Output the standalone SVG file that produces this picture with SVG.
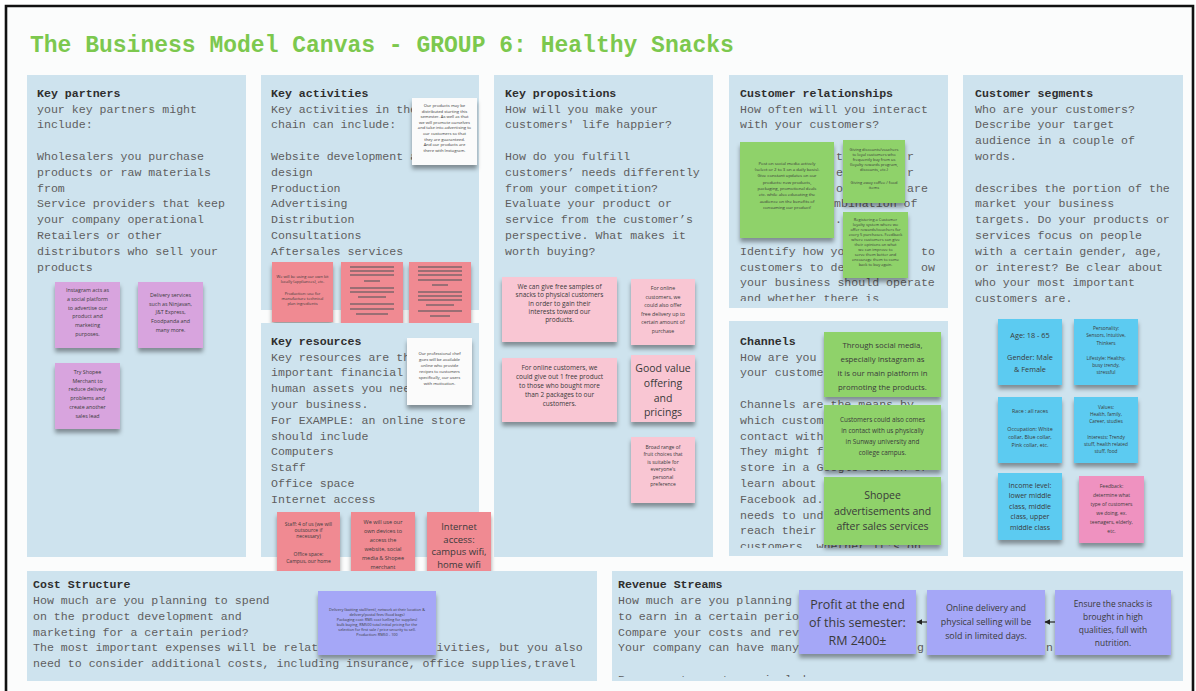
<svg xmlns="http://www.w3.org/2000/svg" width="1196" height="691" viewBox="0 0 1196 691">
<style>
.pn{fill:#cee3ee}
.h{font-family:"Liberation Mono",monospace;font-size:11.6px;font-weight:bold;fill:#2e2e2e}
.b{font-family:"Liberation Mono",monospace;font-size:11.6px;fill:#5e5e5e}
.s{font-family:"Open Sans","Noto Sans",sans-serif;fill:#3a3a3a;text-anchor:middle}
.pu{fill:#d8a4de}.wh{fill:#fbfbfb}.rd{fill:#f08a92}.pk{fill:#f9c6d3}.gr{fill:#8fd26a}.bl{fill:#5ccbf1}.pf{fill:#ef92c0}.lv{fill:#a5a7f7}
.gk{stroke:#7f666b;stroke-width:1.3;fill:none}
</style>
<defs>
<filter id="sh" x="-15%" y="-15%" width="130%" height="150%">
<feDropShadow dx="0" dy="4" stdDeviation="2.2" flood-color="#000" flood-opacity="0.38"/>
</filter>
<marker id="ah" viewBox="0 0 10 10" refX="9" refY="5" markerWidth="6" markerHeight="6" orient="auto-start-reverse" markerUnits="userSpaceOnUse">
<path d="M0,0 L10,5 L0,10 z" fill="#222"/>
</marker>
<clipPath id="cCr"><rect x="729" y="75" width="219" height="226"/></clipPath>
<clipPath id="cCh"><rect x="729" y="321" width="219" height="227"/></clipPath>
<clipPath id="cRev"><rect x="612" y="571" width="571" height="106"/></clipPath>
</defs>

<rect x="0" y="0" width="1196" height="691" fill="#ffffff"/>
<rect x="7" y="7" width="1185" height="684" fill="#fbfcfc"/>
<path d="M6,691 V6 H1193 V691" fill="none" stroke="#111" stroke-width="2.6"/>

<text x="30" y="52" font-family="Liberation Mono, monospace" font-size="23" font-weight="bold" fill="#7cc84e">The Business Model Canvas - GROUP 6: Healthy Snacks</text>

<!-- Key partners -->
<g id="key-partners">
<rect class="pn" x="27" y="75" width="219" height="482"/>
<text class="h" x="37" y="97">Key partners</text>
<text class="b"><tspan x="37" y="113">your key partners might</tspan><tspan x="37" y="128">include:</tspan><tspan x="37" y="160">Wholesalers you purchase</tspan><tspan x="37" y="176">products or raw materials</tspan><tspan x="37" y="192">from</tspan><tspan x="37" y="207">Service providers that keep</tspan><tspan x="37" y="223">your company operational</tspan><tspan x="37" y="239">Retailers or other</tspan><tspan x="37" y="255">distributors who sell your</tspan><tspan x="37" y="271">products</tspan></text>
</g>
<g id="kp-note-1"><rect class="pu" x="55" y="282" width="65" height="66" filter="url(#sh)"/>
<text class="s" font-size="5.3"><tspan x="87.5" y="292">Instagram acts as</tspan><tspan x="87.5" y="301">a social platform</tspan><tspan x="87.5" y="310">to advertise our</tspan><tspan x="87.5" y="318">product and</tspan><tspan x="87.5" y="327">marketing</tspan><tspan x="87.5" y="336">purposes.</tspan></text></g>
<g id="kp-note-2"><rect class="pu" x="138" y="282" width="65" height="66" filter="url(#sh)"/>
<text class="s" font-size="5.3"><tspan x="170.5" y="297">Delivery services</tspan><tspan x="170.5" y="306">such as Ninjavan,</tspan><tspan x="170.5" y="314">J&amp;T Express,</tspan><tspan x="170.5" y="323">Foodpanda and</tspan><tspan x="170.5" y="332">many more.</tspan></text></g>
<g id="kp-note-3"><rect class="pu" x="55" y="363" width="65" height="66" filter="url(#sh)"/>
<text class="s" font-size="5.3"><tspan x="87.5" y="374">Try Shopee</tspan><tspan x="87.5" y="383">Merchant to</tspan><tspan x="87.5" y="391">reduce delivery</tspan><tspan x="87.5" y="400">problems and</tspan><tspan x="87.5" y="409">create another</tspan><tspan x="87.5" y="418">sales lead</tspan></text></g>

<!-- Key activities -->
<g id="key-activities">
<rect class="pn" x="261" y="75" width="218" height="235"/>
<text class="h" x="271" y="97">Key activities</text>
<text class="b"><tspan x="271" y="113">Key activities in the</tspan><tspan x="271" y="128">chain can include:</tspan><tspan x="271" y="160">Website development a</tspan><tspan x="271" y="176">design</tspan><tspan x="271" y="192">Production</tspan><tspan x="271" y="207">Advertising</tspan><tspan x="271" y="223">Distribution</tspan><tspan x="271" y="239">Consultations</tspan><tspan x="271" y="255">Aftersales services</tspan></text>
</g>
<g id="ka-note-white"><rect class="wh" x="412" y="98" width="65" height="67" filter="url(#sh)"/>
<text class="s" font-size="4.2"><tspan x="444.5" y="107">Our products may be</tspan><tspan x="444.5" y="113">distributed starting this</tspan><tspan x="444.5" y="118">semester. As well as that</tspan><tspan x="444.5" y="124">we will promote ourselves</tspan><tspan x="444.5" y="129">and take into advertising to</tspan><tspan x="444.5" y="135">our customers so that</tspan><tspan x="444.5" y="141">they are guaranteed.</tspan><tspan x="444.5" y="146">And our products are</tspan><tspan x="444.5" y="152">there with Instagram.</tspan></text></g>
<g id="ka-note-1"><rect class="rd" x="272" y="262" width="61" height="60" filter="url(#sh)"/>
<text class="s" font-size="4"><tspan x="302.5" y="278">We will be using our own kit</tspan><tspan x="302.5" y="283">locally (appliances), etc.</tspan><tspan x="302.5" y="295">Production: use for</tspan><tspan x="302.5" y="300">manufacture technical</tspan><tspan x="302.5" y="305">plan ingredients</tspan></text></g>
<g id="ka-note-2"><rect class="rd" x="341" y="262" width="62" height="62" filter="url(#sh)"/>
<path class="gk" d="M350,267 H394 M350,271 H394 M350,275 H394 M364,281 H380 M350,288 H394 M350,292 H394 M358,297 H386 M350,304 H394 M350,309 H394 M356,314 H388"/></g>
<g id="ka-note-3"><rect class="rd" x="409" y="262" width="62" height="62" filter="url(#sh)"/>
<path class="gk" d="M418,267 H462 M418,271 H462 M418,275 H462 M418,280 H462 M432,285 H448 M418,292 H462 M418,296 H462 M418,300 H462 M426,305 H454 M418,311 H462 M430,316 H450"/></g>

<!-- Key resources -->
<g id="key-resources">
<rect class="pn" x="261" y="323" width="218" height="234"/>
<text class="h" x="271" y="345">Key resources</text>
<text class="b"><tspan x="271" y="361">Key resources are th</tspan><tspan x="271" y="376">important financial</tspan><tspan x="271" y="392">human assets you nee</tspan><tspan x="271" y="408">your business.</tspan><tspan x="271" y="424">For EXAMPLE: an online store</tspan><tspan x="271" y="440">should include</tspan><tspan x="271" y="455">Computers</tspan><tspan x="271" y="471">Staff</tspan><tspan x="271" y="487">Office space</tspan><tspan x="271" y="503">Internet access</tspan></text>
</g>
<g id="kr-note-white"><rect class="wh" x="407" y="338" width="65" height="67" filter="url(#sh)"/>
<text class="s" font-size="4.2"><tspan x="439.5" y="355">Our professional chef</tspan><tspan x="439.5" y="361">goes will be available</tspan><tspan x="439.5" y="367">online who provide</tspan><tspan x="439.5" y="373">recipes to customers</tspan><tspan x="439.5" y="379">specifically, our users</tspan><tspan x="439.5" y="385">with motivation.</tspan></text></g>
<g id="kr-note-1"><rect class="rd" x="277" y="512" width="63" height="61" filter="url(#sh)"/>
<text class="s" font-size="5"><tspan x="308.5" y="526">Staff: 4 of us (we will</tspan><tspan x="308.5" y="532">outsource if</tspan><tspan x="308.5" y="538">necessary)</tspan><tspan x="308.5" y="556">Office space:</tspan><tspan x="308.5" y="563">Campus, our home</tspan></text></g>
<g id="kr-note-2"><rect class="rd" x="351" y="512" width="64" height="63" filter="url(#sh)"/>
<text class="s" font-size="5.5"><tspan x="383" y="524">We will use our</tspan><tspan x="383" y="533">own devices to</tspan><tspan x="383" y="542">access the</tspan><tspan x="383" y="551">website, social</tspan><tspan x="383" y="560">media &amp; Shopee</tspan><tspan x="383" y="569">merchant</tspan></text></g>
<g id="kr-note-3"><rect class="rd" x="427" y="512" width="64" height="65" filter="url(#sh)"/>
<text class="s" font-size="9.5"><tspan x="459" y="530">Internet</tspan><tspan x="459" y="543">access:</tspan><tspan x="459" y="555">campus wifi,</tspan><tspan x="459" y="568">home wifi</tspan></text></g>

<!-- Key propositions -->
<g id="key-propositions">
<rect class="pn" x="494" y="75" width="219" height="482"/>
<text class="h" x="505" y="97">Key propositions</text>
<text class="b"><tspan x="505" y="113">How will you make your</tspan><tspan x="505" y="128">customers' life happier?</tspan><tspan x="505" y="160">How do you fulfill</tspan><tspan x="505" y="176">customers’ needs differently</tspan><tspan x="505" y="192">from your competition?</tspan><tspan x="505" y="207">Evaluate your product or</tspan><tspan x="505" y="223">service from the customer’s</tspan><tspan x="505" y="239">perspective. What makes it</tspan><tspan x="505" y="255">worth buying?</tspan></text>
</g>
<g id="vp-note-1"><rect class="pk" x="502" y="277" width="115" height="65" filter="url(#sh)"/>
<text class="s" font-size="6.5"><tspan x="559.5" y="289">We can give free samples of</tspan><tspan x="559.5" y="297">snacks to physical customers</tspan><tspan x="559.5" y="306">in order to gain their</tspan><tspan x="559.5" y="314">interests toward our</tspan><tspan x="559.5" y="322">products.</tspan></text></g>
<g id="vp-note-2"><rect class="pk" x="631" y="279" width="64" height="66" filter="url(#sh)"/>
<text class="s" font-size="5.2"><tspan x="663" y="290">For online</tspan><tspan x="663" y="299">customers, we</tspan><tspan x="663" y="307">could also offer</tspan><tspan x="663" y="316">free delivery up to</tspan><tspan x="663" y="324">certain amount of</tspan><tspan x="663" y="333">purchase</tspan></text></g>
<g id="vp-note-3"><rect class="pk" x="502" y="358" width="115" height="64" filter="url(#sh)"/>
<text class="s" font-size="6.5"><tspan x="559.5" y="370">For online customers, we</tspan><tspan x="559.5" y="379">could give out 1 free product</tspan><tspan x="559.5" y="388">to those who bought more</tspan><tspan x="559.5" y="397">than 2 packages to our</tspan><tspan x="559.5" y="406">customers.</tspan></text></g>
<g id="vp-note-4"><rect class="pk" x="631" y="355" width="64" height="67" filter="url(#sh)"/>
<text class="s" font-size="10.5"><tspan x="663" y="372">Good value</tspan><tspan x="663" y="387">offering</tspan><tspan x="663" y="402">and</tspan><tspan x="663" y="416">pricings</tspan></text></g>
<g id="vp-note-5"><rect class="pk" x="631" y="437" width="64" height="66" filter="url(#sh)"/>
<text class="s" font-size="5"><tspan x="663" y="449">Broad range of</tspan><tspan x="663" y="456">fruit choices that</tspan><tspan x="663" y="464">is suitable for</tspan><tspan x="663" y="471">everyone's</tspan><tspan x="663" y="479">personal</tspan><tspan x="663" y="486">preference</tspan></text></g>

<!-- Customer relationships -->
<g id="customer-relationships">
<rect class="pn" x="729" y="75" width="219" height="233"/>
<text class="h" x="740" y="97">Customer relationships</text>
<text class="b" clip-path="url(#cCr)"><tspan x="740" y="113">How often will you interact</tspan><tspan x="740" y="128">with your customers?</tspan><tspan x="836" y="160">t</tspan><tspan x="907" y="160">r</tspan><tspan x="836" y="176">e</tspan><tspan x="907" y="176">r</tspan><tspan x="836" y="192">o</tspan><tspan x="907" y="192">are</tspan><tspan x="834" y="207">mbination of</tspan><tspan x="835" y="223">.</tspan><tspan x="740" y="255">Identify how yo</tspan><tspan x="921" y="255">to</tspan><tspan x="740" y="271">customers to de</tspan><tspan x="921" y="271">ow</tspan><tspan x="740" y="286">your business should operate</tspan><tspan x="740" y="302">and whether there is</tspan></text>
</g>
<g id="cr-note-1"><rect class="gr" x="740" y="142" width="94" height="96" filter="url(#sh)"/>
<text class="s" font-size="4.3"><tspan x="787" y="165">Post on social media actively</tspan><tspan x="787" y="171">(select or 2 to 3 on a daily basis).</tspan><tspan x="787" y="177">Give constant updates on our</tspan><tspan x="787" y="184">products: new products,</tspan><tspan x="787" y="190">packaging, promotional deals</tspan><tspan x="787" y="196">etc. while also educating the</tspan><tspan x="787" y="203">audience on the benefits of</tspan><tspan x="787" y="209">consuming our product!</tspan></text></g>
<g id="cr-note-2"><rect class="gr" x="843" y="140" width="62" height="63" filter="url(#sh)"/>
<text class="s" font-size="4"><tspan x="874" y="151">Giving discounts/vouchers</tspan><tspan x="874" y="156">to loyal customers who</tspan><tspan x="874" y="161">frequently buy from us</tspan><tspan x="874" y="166">(loyalty rewards program,</tspan><tspan x="874" y="171">discounts, etc.)</tspan><tspan x="874" y="184">Giving away coffee / food</tspan><tspan x="874" y="189">items</tspan></text></g>
<g id="cr-note-3"><rect class="gr" x="843" y="212" width="65" height="66" filter="url(#sh)"/>
<text class="s" font-size="4"><tspan x="875.5" y="221">Registering a Customer</tspan><tspan x="875.5" y="226">loyalty system where we</tspan><tspan x="875.5" y="231">offer rewards/vouchers for</tspan><tspan x="875.5" y="236">every 5 purchases. Feedback</tspan><tspan x="875.5" y="241">where customers can give</tspan><tspan x="875.5" y="246">their opinions on what</tspan><tspan x="875.5" y="251">we can improve to</tspan><tspan x="875.5" y="256">serve them better and</tspan><tspan x="875.5" y="261">encourage them to come</tspan><tspan x="875.5" y="266">back to buy again.</tspan></text></g>

<!-- Channels -->
<g id="channels">
<rect class="pn" x="729" y="321" width="219" height="235"/>
<text class="h" x="740" y="345">Channels</text>
<text class="b" clip-path="url(#cCh)"><tspan x="740" y="361">How are you</tspan><tspan x="740" y="376">your custome</tspan><tspan x="740" y="408">Channels are the means by</tspan><tspan x="740" y="424">which custom</tspan><tspan x="740" y="440">contact with</tspan><tspan x="740" y="455">They might f</tspan><tspan x="740" y="471">store in a Google search or</tspan><tspan x="740" y="487">learn about</tspan><tspan x="740" y="503">Facebook ad.</tspan><tspan x="740" y="519">needs to und</tspan><tspan x="740" y="534">reach their</tspan><tspan x="740" y="550">customers, whether it's on</tspan></text>
</g>
<g id="ch-note-1"><rect class="gr" x="824" y="332" width="117" height="65" filter="url(#sh)"/>
<text class="s" font-size="7.8"><tspan x="882.5" y="348">Through social media,</tspan><tspan x="882.5" y="362">especially Instagram  as</tspan><tspan x="882.5" y="376">it is our main platform in</tspan><tspan x="882.5" y="390">promoting the products.</tspan></text></g>
<g id="ch-note-2"><rect class="gr" x="824" y="405" width="117" height="65" filter="url(#sh)"/>
<text class="s" font-size="6.4"><tspan x="882.5" y="422">Customers could also comes</tspan><tspan x="882.5" y="433">in contact with us physically</tspan><tspan x="882.5" y="444">in Sunway university and</tspan><tspan x="882.5" y="455">college campus.</tspan></text></g>
<g id="ch-note-3"><rect class="gr" x="824" y="477" width="117" height="68" filter="url(#sh)"/>
<text class="s" font-size="10.5"><tspan x="882.5" y="499">Shopee</tspan><tspan x="882.5" y="515">advertisements and</tspan><tspan x="882.5" y="530">after sales services</tspan></text></g>

<!-- Customer segments -->
<g id="customer-segments">
<rect class="pn" x="963" y="75" width="220" height="482"/>
<text class="h" x="975" y="97">Customer segments</text>
<text class="b"><tspan x="975" y="113">Who are your customers?</tspan><tspan x="975" y="128">Describe your target</tspan><tspan x="975" y="144">audience in a couple of</tspan><tspan x="975" y="160">words.</tspan><tspan x="975" y="192">describes the portion of the</tspan><tspan x="975" y="207">market your business</tspan><tspan x="975" y="223">targets. Do your products or</tspan><tspan x="975" y="239">services focus on people</tspan><tspan x="975" y="255">with a certain gender, age,</tspan><tspan x="975" y="271">or interest? Be clear about</tspan><tspan x="975" y="286">who your most important</tspan><tspan x="975" y="302">customers are.</tspan></text>
</g>
<g id="cs-note-1"><rect class="bl" x="998" y="319" width="64" height="66" filter="url(#sh)"/>
<text class="s" font-size="7.3"><tspan x="1030" y="338">Age: 18 - 65</tspan><tspan x="1030" y="360">Gender: Male</tspan><tspan x="1030" y="372">&amp; Female</tspan></text></g>
<g id="cs-note-2"><rect class="bl" x="1074" y="319" width="64" height="66" filter="url(#sh)"/>
<text class="s" font-size="4.8"><tspan x="1106" y="330">Personality:</tspan><tspan x="1106" y="337">Sensors, Intuitive,</tspan><tspan x="1106" y="345">Thinkers</tspan><tspan x="1106" y="360">Lifestyle: Healthy,</tspan><tspan x="1106" y="367">busy trendy,</tspan><tspan x="1106" y="374">stressful</tspan></text></g>
<g id="cs-note-3"><rect class="bl" x="998" y="397" width="64" height="66" filter="url(#sh)"/>
<text class="s" font-size="5.3"><tspan x="1030" y="413">Race : all races</tspan><tspan x="1030" y="431">Occupation: White</tspan><tspan x="1030" y="439">collar, Blue collar,</tspan><tspan x="1030" y="447">Pink collar, etc.</tspan></text></g>
<g id="cs-note-4"><rect class="bl" x="1074" y="397" width="64" height="66" filter="url(#sh)"/>
<text class="s" font-size="4.8"><tspan x="1106" y="409">Values:</tspan><tspan x="1106" y="416">Health, family,</tspan><tspan x="1106" y="423">Career, studies</tspan><tspan x="1106" y="439">Interests: Trendy</tspan><tspan x="1106" y="446">stuff, health related</tspan><tspan x="1106" y="453">stuff, food</tspan></text></g>
<g id="cs-note-5"><rect class="bl" x="998" y="473" width="64" height="67" filter="url(#sh)"/>
<text class="s" font-size="7"><tspan x="1030" y="488">Income level:</tspan><tspan x="1030" y="498">lower middle</tspan><tspan x="1030" y="509">class, middle</tspan><tspan x="1030" y="519">class, upper</tspan><tspan x="1030" y="530">middle class</tspan></text></g>
<g id="cs-note-6"><rect class="pf" x="1079" y="476" width="65" height="67" filter="url(#sh)"/>
<text class="s" font-size="5"><tspan x="1111.5" y="488">Feedback:</tspan><tspan x="1111.5" y="497">determine what</tspan><tspan x="1111.5" y="506">type of customers</tspan><tspan x="1111.5" y="515">we doing, ex.</tspan><tspan x="1111.5" y="524">teenagers, elderly,</tspan><tspan x="1111.5" y="533">etc.</tspan></text></g>

<!-- Cost structure -->
<g id="cost-structure">
<rect class="pn" x="27" y="571" width="570" height="110"/>
<text class="h" x="33" y="588">Cost Structure</text>
<text class="b"><tspan x="33" y="604">How much are you planning to spend</tspan><tspan x="33" y="620">on the product development and</tspan><tspan x="33" y="636">marketing for a certain period?</tspan><tspan x="33" y="651">The most important expenses will be related to the key activities, but you also</tspan><tspan x="33" y="667">need to consider additional costs, including insurance, office supplies,travel</tspan></text>
</g>
<g id="cost-note"><rect class="lv" x="318" y="591" width="118" height="64" filter="url(#sh)"/>
<text class="s" font-size="3.8"><tspan x="377" y="611">Delivery (batting stall/tent), network at their location &amp;</tspan><tspan x="377" y="616">delivery/postal fees (food bags)</tspan><tspan x="377" y="621">Packaging cost: RM5 cost (selling for supplies)</tspan><tspan x="377" y="626">bulk buying, RM500 total initial pricing for the</tspan><tspan x="377" y="631">selection for first sale / price security to sell.</tspan><tspan x="377" y="636">Production: RM50 - 100</tspan></text></g>

<!-- Revenue streams -->
<g id="revenue-streams">
<rect class="pn" x="612" y="571" width="571" height="110"/>
<text class="h" x="618" y="588">Revenue Streams</text>
<text class="b" clip-path="url(#cRev)"><tspan x="618" y="604">How much are you planning</tspan><tspan x="618" y="620">to earn in a certain perio</tspan><tspan x="618" y="636">Compare your costs and rev</tspan><tspan x="618" y="651">Your company can have many</tspan><tspan x="917" y="651">g</tspan><tspan x="1046" y="651">n</tspan><tspan x="618" y="683">Revenue stream types include:</tspan></text>
</g>
<g id="rev-note-1"><rect class="lv" x="799" y="590" width="117" height="64" filter="url(#sh)"/>
<text class="s" font-size="12.5"><tspan x="857.5" y="609">Profit at the end</tspan><tspan x="857.5" y="627">of this semester:</tspan><tspan x="857.5" y="645">RM 2400±</tspan></text></g>
<g id="rev-note-2"><rect class="lv" x="927" y="590" width="118" height="65" filter="url(#sh)"/>
<text class="s" font-size="8.9"><tspan x="986" y="611">Online delivery and</tspan><tspan x="986" y="625">physical selling will be</tspan><tspan x="986" y="639">sold in limited days.</tspan></text></g>
<g id="rev-note-3"><rect class="lv" x="1055" y="590" width="116" height="65" filter="url(#sh)"/>
<text class="s" font-size="8.4"><tspan x="1113" y="607">Ensure the snacks is</tspan><tspan x="1113" y="620">brought in high</tspan><tspan x="1113" y="633">qualities, full with</tspan><tspan x="1113" y="646">nutrition.</tspan></text></g>

<g id="connectors" fill="none" stroke="#222" stroke-width="1.2">
<line x1="927" y1="622" x2="917" y2="622" marker-end="url(#ah)"/>
<line x1="1055" y1="622" x2="1045" y2="622" marker-end="url(#ah)"/>
</g>
</svg>
